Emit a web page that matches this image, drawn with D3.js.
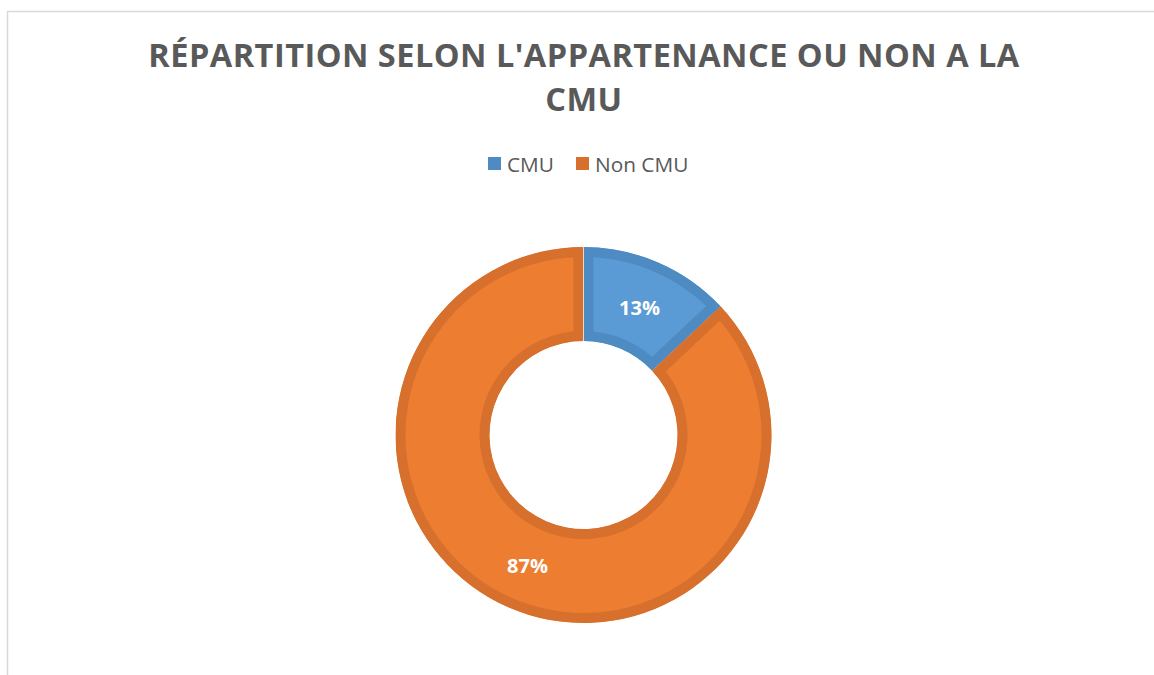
<!DOCTYPE html>
<html>
<head>
<meta charset="utf-8">
<script src="https://cdn.jsdelivr.net/npm/d3@7"></script>
<style>
  body { margin: 0; background: #fff; }
  svg { display: block; font-family: "Open Sans", sans-serif; }
</style>
</head>
<body>
<svg width="1154" height="675"></svg>
<script>
const categories = ["CMU", "Non CMU"];
const values = [13, 87];
const titleLines = ["RÉPARTITION SELON L'APPARTENANCE OU NON A LA", "CMU"];

const fills = ["#5b9bd5", "#ed7d31"];
const borders = ["#4f8bc3", "#d7702d"];

const width = 1154, height = 675;
const svg = d3.select("svg");

// chart frame (only left and top edges are visible)
svg.append("rect")
    .attr("x", 7.5).attr("y", 11.5)
    .attr("width", width + 20).attr("height", height + 20)
    .attr("fill", "none")
    .attr("stroke", "#d9d9d9")
    .attr("stroke-width", 1.5);

// title
const title = svg.append("text")
    .attr("text-anchor", "middle")
    .attr("fill", "#595959")
    .attr("font-weight", "bold")
    .attr("font-size", 32.5);
title.selectAll("tspan")
    .data(titleLines)
    .enter().append("tspan")
    .attr("x", 584)
    .attr("y", (d, i) => 67 + i * 44)
    .text(d => d);

// stretch letter spacing so the first line spans the same width as the original
const firstLine = title.select("tspan").node();
const measured = firstLine.getComputedTextLength();
const spacing = (871 - measured) / (titleLines[0].length - 1);
title.attr("letter-spacing", spacing);

// legend
const legend = svg.append("g").attr("font-size", 20.8).attr("fill", "#595959");
const legendX = [488, 576];
categories.forEach((c, i) => {
    legend.append("rect")
        .attr("x", legendX[i]).attr("y", 157)
        .attr("width", 13).attr("height", 13)
        .attr("fill", borders[i]);
    legend.append("text")
        .attr("x", legendX[i] + 19).attr("y", 171.5)
        .text(c);
});

// donut
const cx = 583.5, cy = 435;
const outerR = 188, innerR = 94;

const pie = d3.pie().sort(null).value(d => d);
const arc = d3.arc().innerRadius(innerR).outerRadius(outerR);
const labelArc = d3.arc().innerRadius((innerR + outerR) / 2).outerRadius((innerR + outerR) / 2);

const arcs = pie(values);
const g = svg.append("g").attr("transform", `translate(${cx},${cy})`);
const defs = svg.append("defs");

arcs.forEach((a, i) => {
    defs.append("clipPath").attr("id", "clip" + i)
        .append("path").attr("d", arc(a));
});

// border drawn inside each slice: double stroke clipped to the slice itself
g.selectAll("path.slice")
    .data(arcs)
    .enter().append("path")
    .attr("class", "slice")
    .attr("d", arc)
    .attr("fill", (d, i) => fills[i])
    .attr("stroke", (d, i) => borders[i])
    .attr("stroke-width", 20)
    .attr("stroke-linejoin", "miter")
    .attr("clip-path", (d, i) => `url(#clip${i})`);

// thin light seam at the top where the slices meet
g.append("line")
    .attr("x1", 0).attr("y1", -outerR)
    .attr("x2", 0).attr("y2", -innerR)
    .attr("stroke", "#ffffff")
    .attr("stroke-opacity", 0.6)
    .attr("stroke-width", 1);

// percentage labels
const total = d3.sum(values);
g.selectAll("text.label")
    .data(arcs)
    .enter().append("text")
    .attr("class", "label")
    .attr("transform", d => `translate(${labelArc.centroid(d)})`)
    .attr("dy", "0.45em")
    .attr("text-anchor", "middle")
    .attr("fill", "#fff")
    .attr("font-weight", "bold")
    .attr("font-size", 20)
    .text(d => Math.round(d.value / total * 100) + "%");
</script>
</body>
</html>
